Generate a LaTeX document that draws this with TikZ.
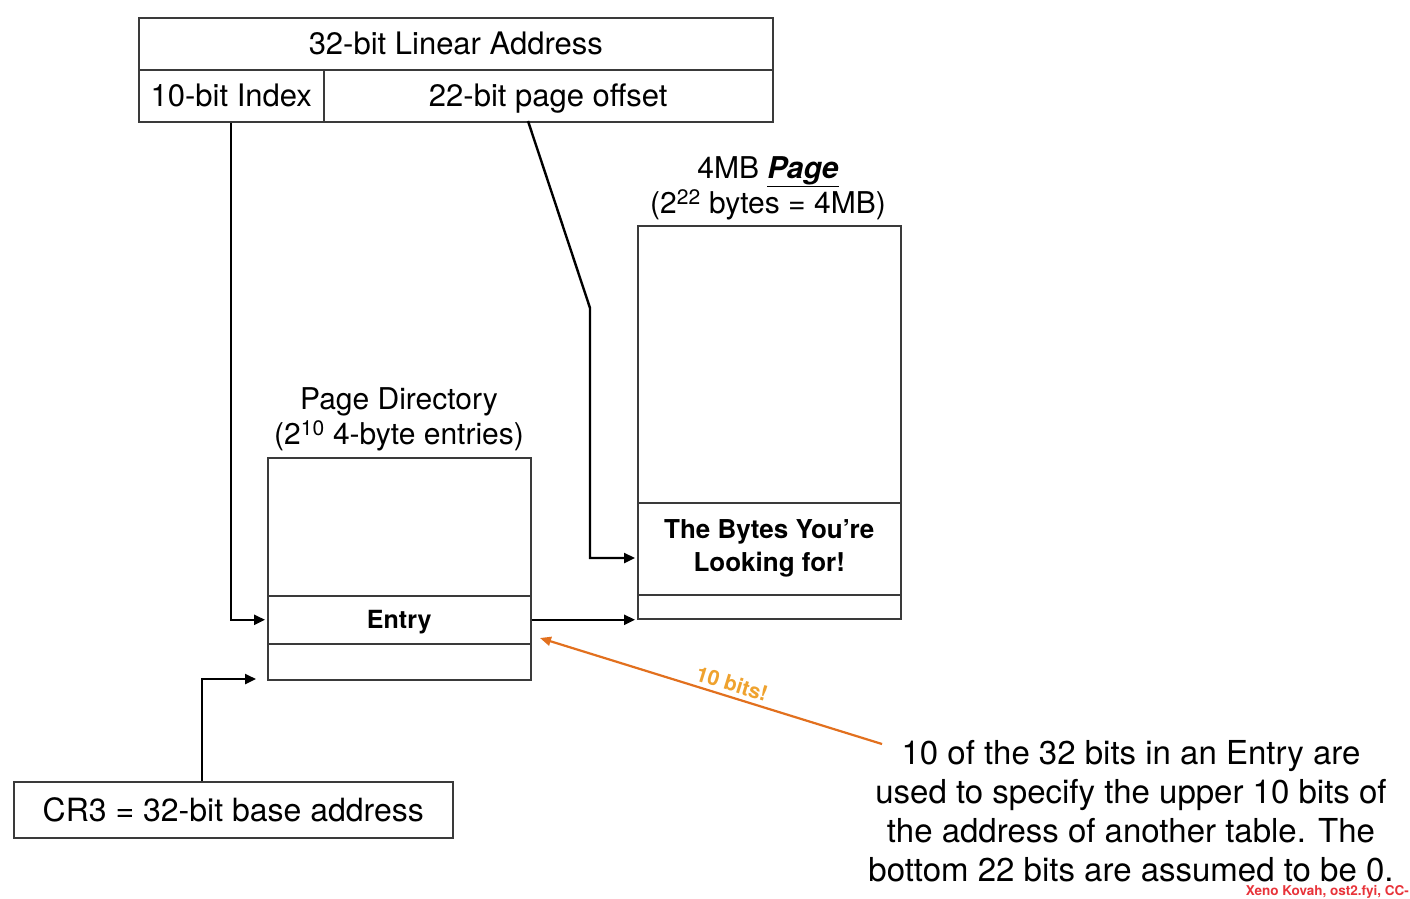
\documentclass[tikz,border=0pt]{standalone}
\usepackage{fontspec}
\setmainfont{TeX Gyre Heros}
\usetikzlibrary{arrows.meta,calc}

\definecolor{boxline}{HTML}{3A3A3A}
\definecolor{notearrow}{HTML}{E2701E}
\definecolor{notelabel}{HTML}{EFA22E}
\definecolor{credit}{HTML}{E8333A}

\tikzset{
  frame/.style={draw=boxline, line width=1.5pt, anchor=north west, inner sep=0pt, fill=white},
  cell/.style={frame, font=\fontsize{31}{36}\selectfont, text height=22pt, text depth=0pt},
  arr/.style={draw=black, line width=2.4pt,
    -{Triangle[length=11pt,width=10pt]}},
  orarr/.style={draw=notearrow, line width=2.2pt,
    -{Triangle[length=11pt,width=9pt]}},
  caption/.style={align=center, font=\fontsize{30}{35}\selectfont},
}

\begin{document}
\begin{tikzpicture}[x=1pt,y=-1pt]
\useasboundingbox[fill=white] (0,0) rectangle (1410,898);

% linear address split into index and offset
\node[cell, minimum width=634pt, minimum height=52pt] (la) at (138,17) {32-bit Linear Address};
\node[cell, minimum width=185pt, minimum height=52pt] (idx) at (138,69) {10-bit Index};
\node[cell, minimum width=449pt, minimum height=52pt] (off) at (323,69) {22-bit page offset};

% page directory
\node[frame, minimum width=263pt, minimum height=222pt] (pd) at (267,457) {};
\node[cell, minimum width=263pt, minimum height=48pt, text height=18pt,
      font=\fontsize{25}{28}\selectfont\bfseries] (entry) at (267,595) {Entry};
\node[caption] (pdlabel) at (399,419) {Page Directory\\(2\textsuperscript{10} 4-byte entries)};

% 4MB page
\node[frame, minimum width=263pt, minimum height=393pt] (pg) at (637,225) {};
\node[frame, minimum width=263pt, minimum height=92pt, align=center,
      font=\fontsize{26}{33}\selectfont\bfseries] (bytes) at (637,502) {The Bytes You're\\Looking for!};
\node[caption] (pglabel) at (768,188) {4MB \underline{\textbf{\textit{Page}}}\\(2\textsuperscript{22} bytes = 4MB)};

% CR3
\node[cell, minimum width=439pt, minimum height=56pt, text height=23pt,
      font=\fontsize{32}{36}\selectfont] (cr3) at (13,781) {CR3 = 32-bit base address};

% explanatory note
\node[align=center, font=\fontsize{33}{39}\selectfont] (note) at (1131,811)
  {10 of the 32 bits in an Entry are\\used to specify the upper 10 bits of\\the address of another table. The\\bottom 22 bits are assumed to be 0.};

% connector end points
\coordinate (offstart) at (528,121);
\coordinate (bend) at (590,308);
\coordinate (bytesin) at (635,558);
\coordinate (cr3start) at (202,781);
\coordinate (pdin) at (256,679);
\coordinate (notestart) at (882,744);
\coordinate (entrytip) at (540,638);

% connectors
\draw[arr] (idx.south) |- ([xshift=-2pt]entry.west);
\draw[arr] (offstart) -- (bend) -- (bend |- bytesin) -- (bytesin);
\draw[arr] (entry.east) -- ([xshift=-2pt]entry.east -| pg.west);
\draw[arr] (cr3start) |- (pdin);
\draw[orarr] (notestart) -- (entrytip)
  node[pos=0.45, sloped, above=1pt, text=notelabel,
       font=\fontsize{21}{24}\selectfont\bfseries] {10 bits!};

% credit line
\node[anchor=base east, text=credit, font=\fontsize{13.5}{15}\selectfont\bfseries, inner sep=0pt]
  (credit) at (1409,895) {Xeno Kovah, ost2.fyi, CC-};
\end{tikzpicture}
\end{document}
